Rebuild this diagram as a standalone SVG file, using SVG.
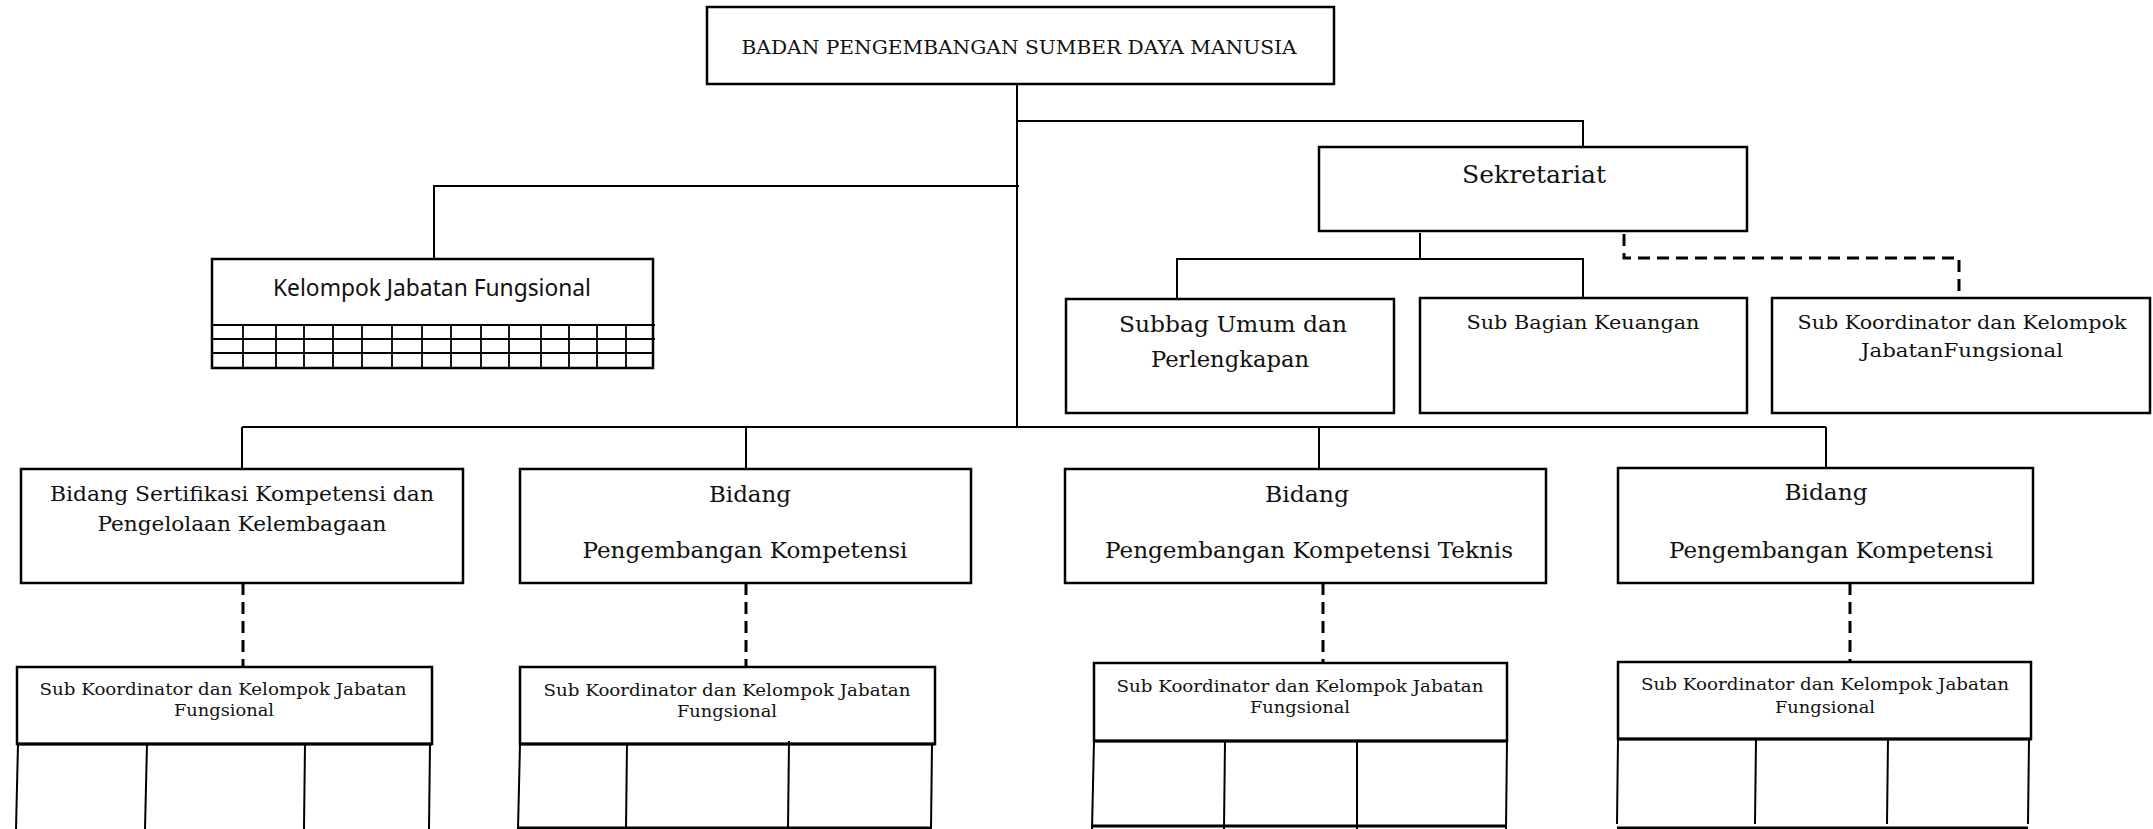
<svg xmlns="http://www.w3.org/2000/svg" width="2153" height="829" viewBox="0 0 2153 829">
  <style>
    .box { fill: #fff; stroke: #000; stroke-width: 2.5; }
    .ln { fill: none; stroke: #000; stroke-width: 2; }
    .thick { fill: none; stroke: #000; stroke-width: 3; }
    .dash { fill: none; stroke: #000; stroke-width: 3; stroke-dasharray: 12 7; }
    .grid { fill: none; stroke: #000; stroke-width: 1.8; }
    .serif { font-family: "DejaVu Serif", "Liberation Serif", serif; fill: #111; text-anchor: middle; }
    .sans { font-family: "Noto Sans", "Liberation Sans", sans-serif; fill: #111; text-anchor: middle; }
    .t16 { font-size: 16.5px; }
    .t19 { font-size: 19px; }
    .t21 { font-size: 21px; }
    .t22 { font-size: 22px; }
  </style>

  <!-- connectors -->
  <g id="connectors">
    <path class="ln" d="M1017 84 V427"/>
    <path class="ln" d="M1017 121 H1583 V147"/>
    <path class="ln" d="M1019 186 H434 V259"/>
    <path class="ln" d="M242 427 H1826"/>
    <path class="ln" d="M242 427 V469 M746 427 V469 M1319 427 V469 M1826 427 V468"/>
    <path class="ln" d="M1420 233 V259 M1177 299 V259 H1583 V298"/>
    <path class="dash" d="M1624 234 V258 H1959 V298"/>
    <path class="dash" d="M243 583 V667 M746 583 V667 M1323 583 V663 M1850 583 V662"/>
  </g>

  <!-- head of agency -->
  <g id="node-badan">
    <rect class="box" x="707" y="7" width="627" height="77"/>
    <text class="serif" x="1019" y="54" font-size="18" textLength="555" lengthAdjust="spacingAndGlyphs">BADAN PENGEMBANGAN  SUMBER DAYA MANUSIA</text>
  </g>

  <!-- functional group with grid -->
  <g id="node-kelompok">
    <rect class="box" x="212" y="259" width="441" height="109"/>
    <text class="sans" x="432" y="296" font-size="23" textLength="318" lengthAdjust="spacingAndGlyphs">Kelompok Jabatan Fungsional</text>
    <path class="grid" d="M212 325 H655 M212 339 H655 M212 353 H653"/>
    <path class="grid" d="M243 325 V368 M276 325 V368 M304 325 V368 M333 325 V368 M362 325 V368 M392 325 V368 M422 325 V368 M451 325 V368 M481 325 V368 M509 325 V368 M541 325 V368 M569 325 V368 M597 325 V368 M626 325 V368"/>
  </g>

  <!-- secretariat -->
  <g id="node-sekretariat">
    <rect class="box" x="1319" y="147" width="428" height="84"/>
    <text class="serif" x="1534" y="183" font-size="24" textLength="144" lengthAdjust="spacingAndGlyphs">Sekretariat</text>
  </g>

  <g id="node-subbag-umum">
    <rect class="box" x="1066" y="299" width="328" height="114"/>
    <text class="serif t22" x="1233" y="332" textLength="228" lengthAdjust="spacingAndGlyphs">Subbag Umum dan</text>
    <text class="serif t22" x="1230" y="367" textLength="158" lengthAdjust="spacingAndGlyphs">Perlengkapan</text>
  </g>

  <g id="node-keuangan">
    <rect class="box" x="1420" y="298" width="327" height="115"/>
    <text class="serif t19" x="1583" y="329" textLength="233" lengthAdjust="spacingAndGlyphs">Sub Bagian Keuangan</text>
  </g>

  <g id="node-subkoor-sekretariat">
    <rect class="box" x="1772" y="298" width="378" height="115"/>
    <text class="serif t19" x="1962" y="329" textLength="329" lengthAdjust="spacingAndGlyphs">Sub Koordinator dan Kelompok</text>
    <text class="serif t19" x="1962" y="357" textLength="202" lengthAdjust="spacingAndGlyphs">JabatanFungsional</text>
  </g>

  <!-- divisions -->
  <g id="node-bidang-sertifikasi">
    <rect class="box" x="21" y="469" width="442" height="114"/>
    <text class="serif t21" x="242" y="501" textLength="384" lengthAdjust="spacingAndGlyphs">Bidang Sertifikasi Kompetensi dan</text>
    <text class="serif t21" x="242" y="531" textLength="289" lengthAdjust="spacingAndGlyphs">Pengelolaan Kelembagaan</text>
  </g>

  <g id="node-bidang-kompetensi-1">
    <rect class="box" x="520" y="469" width="451" height="114"/>
    <text class="serif t22" x="750" y="502" textLength="82" lengthAdjust="spacingAndGlyphs">Bidang</text>
    <text class="serif t22" x="745" y="558" textLength="325" lengthAdjust="spacingAndGlyphs">Pengembangan Kompetensi</text>
  </g>

  <g id="node-bidang-teknis">
    <rect class="box" x="1065" y="469" width="481" height="114"/>
    <text class="serif t22" x="1307" y="502" textLength="84" lengthAdjust="spacingAndGlyphs">Bidang</text>
    <text class="serif t22" x="1309" y="558" textLength="408" lengthAdjust="spacingAndGlyphs">Pengembangan Kompetensi Teknis</text>
  </g>

  <g id="node-bidang-kompetensi-2">
    <rect class="box" x="1618" y="468" width="415" height="115"/>
    <text class="serif t22" x="1826" y="500" textLength="83" lengthAdjust="spacingAndGlyphs">Bidang</text>
    <text class="serif t22" x="1831" y="558" textLength="324" lengthAdjust="spacingAndGlyphs">Pengembangan Kompetensi</text>
  </g>

  <!-- sub coordinators under each division -->
  <g id="node-subkoor-1">
    <rect class="box" x="17" y="667" width="415" height="77"/>
    <path class="thick" d="M17 744 H432"/>
    <text class="serif t16" x="223" y="695" textLength="367" lengthAdjust="spacingAndGlyphs">Sub Koordinator dan Kelompok Jabatan</text>
    <text class="serif t16" x="224" y="716" textLength="100" lengthAdjust="spacingAndGlyphs">Fungsional</text>
    <path class="ln" d="M18 744 L16 829 M147 744 L145 829 M305 744 L304 829 M430 744 L429 829"/>
  </g>

  <g id="node-subkoor-2">
    <rect class="box" x="520" y="667" width="415" height="77"/>
    <path class="thick" d="M520 744 H935"/>
    <text class="serif t16" x="727" y="696" textLength="367" lengthAdjust="spacingAndGlyphs">Sub Koordinator dan Kelompok Jabatan</text>
    <text class="serif t16" x="727" y="717" textLength="100" lengthAdjust="spacingAndGlyphs">Fungsional</text>
    <path class="ln" d="M520 744 L518 829 M627 743 L626 829 M789 741 L788 829 M932 744 L931 829"/>
    <path class="thick" d="M518 828 H932"/>
  </g>

  <g id="node-subkoor-3">
    <rect class="box" x="1094" y="663" width="413" height="78"/>
    <path class="thick" d="M1094 741 H1507"/>
    <text class="serif t16" x="1300" y="692" textLength="367" lengthAdjust="spacingAndGlyphs">Sub Koordinator dan Kelompok Jabatan</text>
    <text class="serif t16" x="1300" y="713" textLength="100" lengthAdjust="spacingAndGlyphs">Fungsional</text>
    <path class="ln" d="M1094 741 L1092 829 M1225 741 L1224 829 M1357 741 L1357 829 M1507 741 L1506 829"/>
    <path class="thick" d="M1092 826 H1506"/>
  </g>

  <g id="node-subkoor-4">
    <rect class="box" x="1618" y="662" width="413" height="77"/>
    <path class="thick" d="M1618 739 H2031"/>
    <text class="serif t16" x="1825" y="690" textLength="368" lengthAdjust="spacingAndGlyphs">Sub Koordinator dan Kelompok Jabatan</text>
    <text class="serif t16" x="1825" y="713" textLength="100" lengthAdjust="spacingAndGlyphs">Fungsional</text>
    <path class="ln" d="M1618 739 L1617 824 M1756 739 L1755 824 M1888 739 L1887 824 M2029 739 L2028 824"/>
    <path class="thick" d="M1617 828 H2028"/>
  </g>
</svg>
